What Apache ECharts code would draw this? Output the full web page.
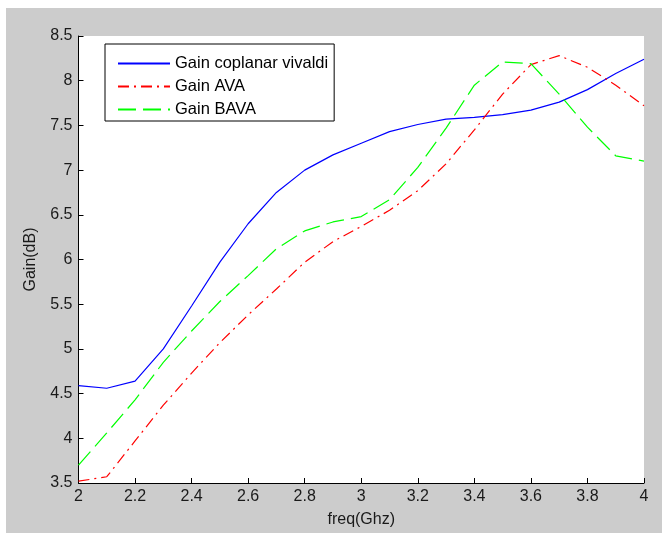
<!DOCTYPE html>
<html>
<head>
<meta charset="utf-8">
<script src="https://cdn.jsdelivr.net/npm/echarts@6/dist/echarts.min.js"></script>
<style>
  html, body { margin: 0; padding: 0; background: #fff; }
  #gain { position: absolute; left: 6px; top: 8px; width: 656px; height: 525px; background: #cccccc; }
</style>
</head>
<body>
<div id="gain"></div>
<script>
var freq = [2.0, 2.1, 2.2, 2.3, 2.4, 2.5, 2.6, 2.7, 2.8, 2.9, 3.0, 3.1, 3.2, 3.3, 3.4, 3.5, 3.6, 3.7, 3.8, 3.9, 4.0];
var gainVivaldi = [4.59, 4.56, 4.64, 5.0, 5.48, 5.97, 6.4, 6.75, 7.0, 7.17, 7.3, 7.43, 7.51, 7.57, 7.59, 7.62, 7.67, 7.76, 7.9, 8.08, 8.24];
var gainAVA = [3.52, 3.57, 3.97, 4.37, 4.73, 5.07, 5.38, 5.67, 5.97, 6.2, 6.37, 6.55, 6.77, 7.07, 7.45, 7.85, 8.18, 8.28, 8.15, 7.95, 7.72];
var gainBAVA = [3.7, 4.06, 4.43, 4.85, 5.2, 5.53, 5.82, 6.12, 6.32, 6.42, 6.48, 6.67, 7.03, 7.47, 7.95, 8.21, 8.19, 7.85, 7.48, 7.16, 7.1];

function pairs(ys) {
    return freq.map(function (f, i) { return [f, ys[i]]; });
}

var myChart = echarts.init(document.getElementById('gain'));
var font = "'Liberation Sans', Arial, sans-serif";

var axisCommon = {
    axisLine: { show: true, lineStyle: { color: '#000', width: 1 } },
    axisTick: { show: true, inside: true, length: 5, lineStyle: { color: '#000' } },
    axisLabel: { color: '#1a1a1a', fontSize: 16, fontFamily: font, margin: 6 },
    splitLine: { show: false },
    nameTextStyle: { color: '#1a1a1a', fontSize: 16, fontFamily: font }
};

var option = {
    animation: false,
    grid: {
        left: 72.5, top: 28, right: 18, bottom: 49,
        show: true, backgroundColor: '#fff', borderWidth: 0
    },
    legend: {
        orient: 'vertical',
        left: 99, top: 36,
        backgroundColor: '#fff',
        borderColor: '#000', borderWidth: 1,
        padding: [11, 6, 3, 12],
        itemWidth: 52, itemHeight: 14, itemGap: 6,
        itemStyle: { opacity: 0 },
        textStyle: { color: '#000', fontSize: 16.5, fontFamily: font },
        data: ['Gain coplanar vivaldi', 'Gain AVA', 'Gain BAVA']
    },
    xAxis: Object.assign({
        type: 'value', min: 2, max: 4, interval: 0.2,
        name: 'freq(Ghz)', nameLocation: 'middle', nameGap: 29
    }, axisCommon),
    yAxis: Object.assign({
        type: 'value', min: 3.5, max: 8.5, interval: 0.5,
        name: 'Gain(dB)', nameLocation: 'middle', nameGap: 40
    }, axisCommon),
    series: [
        {
            name: 'Gain coplanar vivaldi', type: 'line', symbol: 'none',
            data: pairs(gainVivaldi),
            lineStyle: { color: '#0000ff', width: 1.2 },
            itemStyle: { color: '#0000ff' }
        },
        {
            name: 'Gain AVA', type: 'line', symbol: 'none',
            data: pairs(gainAVA),
            lineStyle: { color: '#ff0000', width: 1.2, type: [11, 5, 2, 5] },
            itemStyle: { color: '#ff0000' }
        },
        {
            name: 'Gain BAVA', type: 'line', symbol: 'none',
            data: pairs(gainBAVA),
            lineStyle: { color: '#00ff00', width: 1.2, type: [18, 7] },
            itemStyle: { color: '#00ff00' }
        }
    ]
};
myChart.setOption(option);
</script>
</body>
</html>
